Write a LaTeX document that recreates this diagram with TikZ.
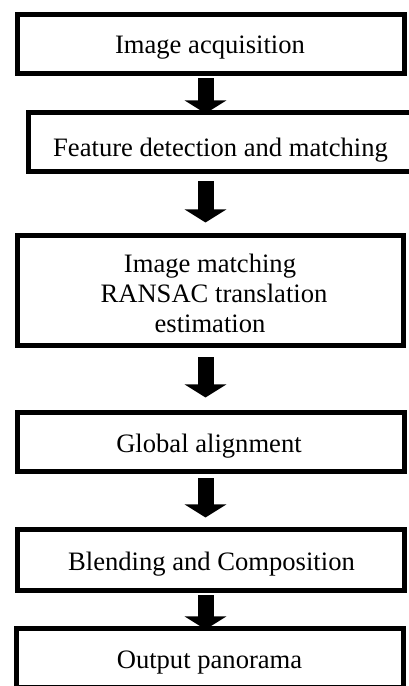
\documentclass[tikz,border=0pt]{standalone}
\usepackage{fontspec}
\setmainfont{Liberation Serif}
\usetikzlibrary{arrows.meta}
\begin{document}
\begin{tikzpicture}[x=1pt,y=1pt,
  stepbox/.style={draw=black, line width=5pt, fill=white, inner sep=0pt, minimum width=387pt, minimum height=59pt},
  lbl/.style={anchor=base, inner sep=0pt, font=\fontsize{26.6}{30.3}\selectfont},
  arr/.style={line width=16pt, -{Triangle[width=41pt,length=13pt]}, black}]
\useasboundingbox[fill=white] (0,0) rectangle (409,686);
\coordinate (ax) at (205.5,0);
\node[stepbox] (b1) at (211,642) {};
\node[stepbox] (b2) at (222,544) {};
\node[stepbox, minimum width=386pt, minimum height=110.5pt] (b3) at (210.5,395.25) {};
\node[stepbox] (b4) at (210.5,244) {};
\node[stepbox, minimum width=386.5pt, minimum height=61pt] (b5) at (210.75,126) {};
\node[stepbox] (b6) at (210,27.5) {};
\node[lbl] (t1) at (210,632) {Image acquisition};
\node[lbl] (t2) at (220.5,529) {Feature detection and matching};
\node[lbl] (t3a) at (210,413) {Image matching};
\node[lbl] (t3b) at (214,383) {RANSAC translation};
\node[lbl] (t3c) at (210,353) {estimation};
\node[lbl] (t4) at (209,233.5) {Global alignment};
\node[lbl] (t5) at (211.5,115.3) {Blending and Composition};
\node[lbl] (t6) at (209.5,17) {Output panorama};
\draw[arr] ([yshift=-2.5pt]b1.south -| ax) -- ([yshift=-3.5pt]b2.north -| ax);
\draw[arr] ([yshift=-7.5pt]b2.south -| ax) -- ([yshift=10.5pt]b3.north -| ax);
\draw[arr] ([yshift=-9pt]b3.south -| ax) -- ([yshift=12.5pt]b4.north -| ax);
\draw[arr] ([yshift=-4.5pt]b4.south -| ax) -- ([yshift=9.5pt]b5.north -| ax);
\draw[arr] ([yshift=-2.5pt]b5.south -| ax) -- ([yshift=-3pt]b6.north -| ax);
\end{tikzpicture}
\end{document}
